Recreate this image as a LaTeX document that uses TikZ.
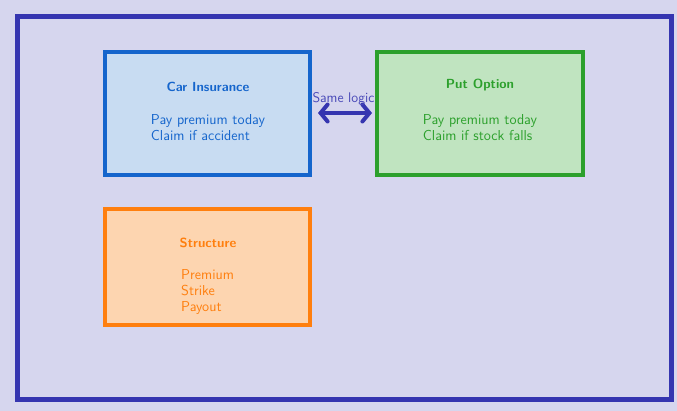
\documentclass[tikz,border=0pt]{standalone}
\usetikzlibrary{arrows.meta}
\renewcommand{\familydefault}{\sfdefault}
\definecolor{bgc}{HTML}{D6D6EE}
\definecolor{framec}{HTML}{3535B0}
\definecolor{bluec}{HTML}{1565CC}
\definecolor{bluef}{HTML}{C8DCF2}
\definecolor{greenc}{HTML}{2CA02C}
\definecolor{greenf}{HTML}{C0E4C0}
\definecolor{orangec}{HTML}{FF7F0E}
\definecolor{orangef}{HTML}{FDD5B0}
\tikzset{
  card/.style={line width=4pt},
  ttl/.style={font=\fontsize{13.2}{15}\selectfont\bfseries, inner sep=0pt},
  body/.style={font=\fontsize{14.4}{15.5}\selectfont, align=left, inner sep=0pt},
}
\begin{document}
\begin{tikzpicture}[x=1pt,y=-1pt]
\useasboundingbox (0,0) rectangle (677,411);
\fill[bgc] (0,0) rectangle (677,411);
\draw[framec, line width=5pt] (17,17) rectangle (671,399);
% boxes
\draw[card, draw=bluec, fill=bluef] (105,52) rectangle (310,175);
\node[coordinate] (carR) at (310,113) {};
\draw[card, draw=greenc, fill=greenf] (377,52) rectangle (583,175);
\node[coordinate] (putL) at (377,113) {};
\draw[card, draw=orangec, fill=orangef] (105,209) rectangle (310,325);
% texts
\node[ttl, text=bluec] (cart) at (208,87) {Car Insurance};
\node[body, text=bluec] (carb) at (208,127.5) {Pay premium today\\Claim if accident};
\node[ttl, text=greenc] (putt) at (480,85) {Put Option};
\node[body, text=greenc] (putb) at (480,127.5) {Pay premium today\\Claim if stock falls};
\node[ttl, text=orangec] (strt) at (208,243) {Structure};
\node[body, text=orangec, anchor=west, font=\fontsize{14.4}{16}\selectfont] (strb) at (181,292) {Premium\\Strike\\Payout};
% arrow
\draw[framec, line width=4pt, {Straight Barb[length=7pt,width=17pt,line cap=round]}-{Straight Barb[length=7pt,width=17pt,line cap=round]}, shorten <=8pt, shorten >=5pt] (carR) -- (putL);
\node[text=framec!90!white, font=\fontsize{14}{15}\selectfont, inner sep=0pt] (lbl) at (343.5,99) {Same logic};
\end{tikzpicture}
\end{document}
